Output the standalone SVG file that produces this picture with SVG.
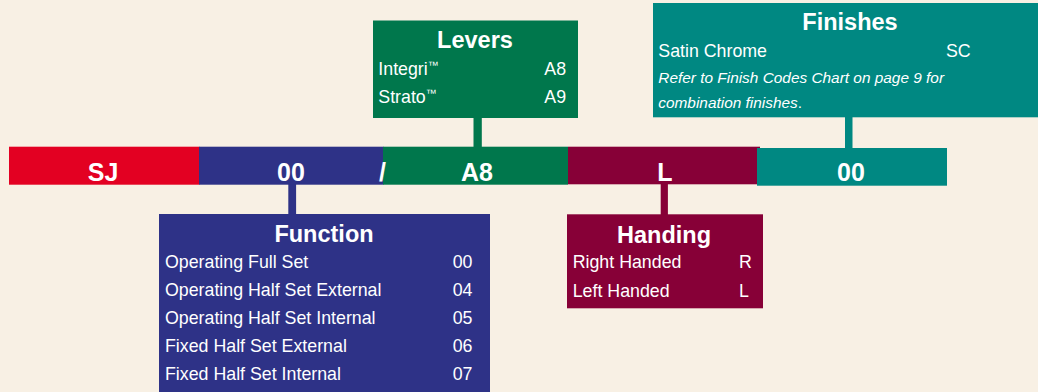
<svg xmlns="http://www.w3.org/2000/svg" width="1038" height="392" viewBox="0 0 1038 392">
  <style>
    text { font-family: "Liberation Sans", Arial, sans-serif; fill: #FFFFFF; }
    .code { font-size: 25px; font-weight: bold; text-anchor: middle; }
    .title { font-size: 23.5px; font-weight: bold; text-anchor: middle; }
    .item { font-size: 17.8px; }
    .note { font-size: 15.4px; font-style: italic; }
    .tm { font-size: 11px; }
    .red { fill: #E30022; }
    .blue { fill: #2E3287; }
    .green { fill: #00774C; }
    .maroon { fill: #870037; }
    .teal { fill: #008882; }
  </style>
  <rect x="0" y="0" width="1038" height="392" fill="#F8F0E4"/>

  <g id="connectors">
    <rect class="green" x="473.5" y="116" width="8.3" height="32"/>
    <rect class="teal" x="845" y="116" width="7.5" height="33"/>
    <rect class="blue" x="288.3" y="183" width="7.8" height="32"/>
    <rect class="maroon" x="660.7" y="183" width="7.2" height="32"/>
  </g>

  <g id="bar">
    <g id="seg-sj">
      <rect class="red" x="9" y="146.7" width="190.5" height="38"/>
      <text class="code" x="103" y="181">SJ</text>
    </g>
    <g id="seg-function">
      <rect class="blue" x="199" y="146.7" width="184.5" height="38"/>
      <text class="code" x="291" y="181">00</text>
    </g>
    <g id="seg-levers">
      <rect class="green" x="383" y="146.7" width="185" height="38"/>
      <text class="code" x="477" y="181">A8</text>
    </g>
    <g id="seg-handing">
      <rect class="maroon" x="568" y="146.7" width="192" height="37.6"/>
      <text class="code" x="665" y="181">L</text>
    </g>
    <g id="seg-finishes">
      <rect class="teal" x="757" y="148" width="190" height="37.7"/>
      <text class="code" x="851" y="181">00</text>
    </g>
    <text class="code" x="382.5" y="181">/</text>
  </g>

  <g id="levers">
    <rect class="green" x="373" y="20.5" width="205" height="97.5"/>
    <text class="title" x="475" y="48">Levers</text>
    <text class="item" x="378.3" y="75">Integri<tspan class="tm" dy="-6">™</tspan></text>
    <text class="item" x="544.3" y="75">A8</text>
    <text class="item" x="378.3" y="102.7">Strato<tspan class="tm" dy="-6">™</tspan></text>
    <text class="item" x="544.3" y="102.7">A9</text>
  </g>

  <g id="finishes">
    <rect class="teal" x="653" y="3" width="385" height="114.3"/>
    <text class="title" x="850" y="30">Finishes</text>
    <text class="item" x="658.3" y="56.7">Satin Chrome</text>
    <text class="item" x="946" y="56.7">SC</text>
    <text class="note" x="658.3" y="83">Refer to Finish Codes Chart on page 9 for</text>
    <text class="note" x="658.3" y="108.3">combination finishes<tspan font-style="normal">.</tspan></text>
  </g>

  <g id="function">
    <rect class="blue" x="159" y="214" width="331" height="178"/>
    <text class="title" x="324" y="241.7">Function</text>
    <text class="item" x="165" y="268.3">Operating Full Set</text>
    <text class="item" x="452.7" y="268.3">00</text>
    <text class="item" x="165" y="296.2">Operating Half Set External</text>
    <text class="item" x="452.7" y="296.2">04</text>
    <text class="item" x="165" y="324">Operating Half Set Internal</text>
    <text class="item" x="452.7" y="324">05</text>
    <text class="item" x="165" y="351.8">Fixed Half Set External</text>
    <text class="item" x="452.7" y="351.8">06</text>
    <text class="item" x="165" y="379.5">Fixed Half Set Internal</text>
    <text class="item" x="452.7" y="379.5">07</text>
  </g>

  <g id="handing">
    <rect class="maroon" x="567" y="214.3" width="196" height="94"/>
    <text class="title" x="664" y="243">Handing</text>
    <text class="item" x="572.7" y="268.3">Right Handed</text>
    <text class="item" x="739" y="268.3">R</text>
    <text class="item" x="572.7" y="296.7">Left Handed</text>
    <text class="item" x="739" y="296.7">L</text>
  </g>
</svg>
